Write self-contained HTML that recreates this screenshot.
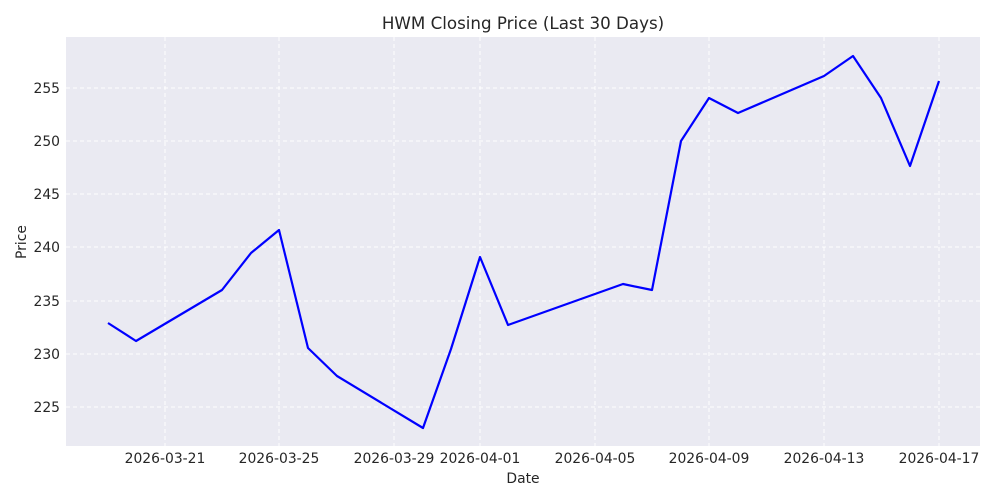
<!DOCTYPE html>
<html><head><style>body{margin:0;background:#fff}svg{display:block}</style></head><body>
<svg width="1000" height="500" xmlns="http://www.w3.org/2000/svg" font-family="'DejaVu Sans',sans-serif">
<rect width="1000" height="500" fill="#fff"/>
<rect x="66" y="37" width="914" height="409" fill="#eaeaf2"/>
<g stroke="#fff" stroke-width="1" stroke-dasharray="4,3">
<line x1="165" y1="37" x2="165" y2="446"/><line x1="279" y1="37" x2="279" y2="446"/>
<line x1="394" y1="37" x2="394" y2="446"/><line x1="480" y1="37" x2="480" y2="446"/>
<line x1="595" y1="37" x2="595" y2="446"/><line x1="709" y1="37" x2="709" y2="446"/>
<line x1="824" y1="37" x2="824" y2="446"/><line x1="939" y1="37" x2="939" y2="446"/>
<line x1="66" y1="88" x2="980" y2="88"/><line x1="66" y1="141" x2="980" y2="141"/>
<line x1="66" y1="194" x2="980" y2="194"/><line x1="66" y1="247" x2="980" y2="247"/>
<line x1="66" y1="301" x2="980" y2="301"/><line x1="66" y1="354" x2="980" y2="354"/>
<line x1="66" y1="407" x2="980" y2="407"/>
</g>
<polyline fill="none" stroke="#0000ff" stroke-width="2.2" stroke-linejoin="round" points="108,323 136,341 222,290 251,253 279,230 308,348 337,376 423,428 451,349 480,257 508,325 623,284 652,290 681,141 709,98 738,113 824,76 853,56 881,98 910,166 939,81"/>
<g font-size="13.9" fill="#262626" text-anchor="middle">
<text x="165" y="463">2026-03-21</text><text x="279" y="463">2026-03-25</text>
<text x="394" y="463">2026-03-29</text><text x="480" y="463">2026-04-01</text>
<text x="595" y="463">2026-04-05</text><text x="709" y="463">2026-04-09</text>
<text x="824" y="463">2026-04-13</text><text x="939" y="463">2026-04-17</text>
</g>
<g font-size="13.9" fill="#262626" text-anchor="end">
<text x="60" y="93">255</text><text x="60" y="146">250</text><text x="60" y="199">245</text>
<text x="60" y="252">240</text><text x="60" y="306">235</text><text x="60" y="359">230</text>
<text x="60" y="412">225</text>
</g>
<text x="523" y="483" font-size="13.9" fill="#262626" text-anchor="middle">Date</text>
<text x="26" y="242" font-size="13.9" fill="#262626" text-anchor="middle" transform="rotate(-90 26 242)">Price</text>
<text x="523" y="29" font-size="16.7" fill="#262626" text-anchor="middle">HWM Closing Price (Last 30 Days)</text>
</svg>
</body></html>
